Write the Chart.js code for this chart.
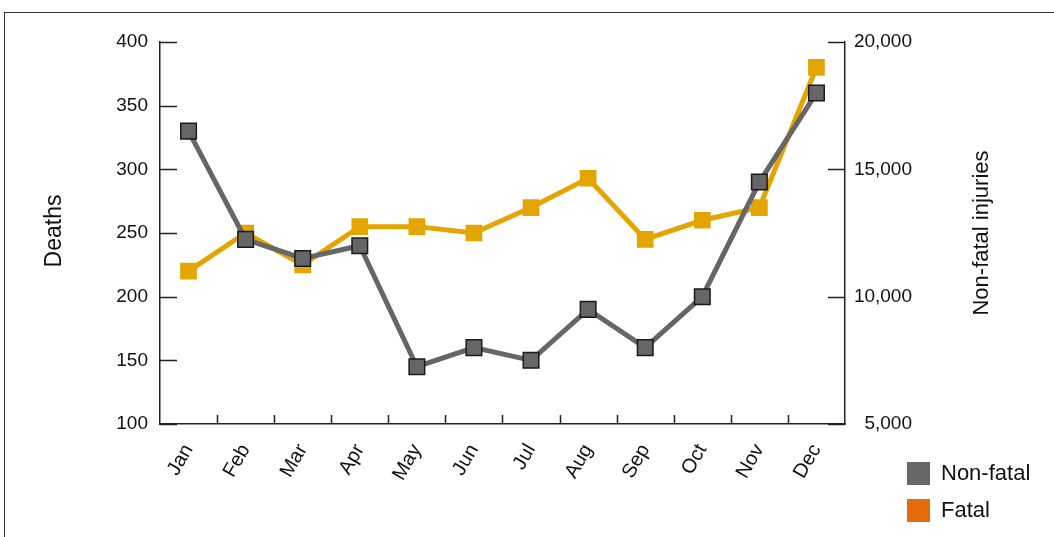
<!DOCTYPE html>
<html>
<head>
<meta charset="utf-8">
<script src="https://cdn.jsdelivr.net/npm/chart.js@4/dist/chart.umd.min.js"></script>
<style>
  html, body { margin: 0; padding: 0; background: #fff; }
  #wrap { position: relative; width: 1054px; height: 537px; overflow: hidden; }
  #frame { position: absolute; left: 4px; top: 12px; right: -10px; bottom: -10px;
           border-top: 1.5px solid #333; border-left: 1.5px solid #333; }
  canvas { position: absolute; left: 0; top: 0; }
  .leg { position: absolute; left: 907px; font-family: "Liberation Sans", Arial, sans-serif;
         font-size: 22px; color: #111; display: flex; align-items: center; }
  .leg span.box { display: inline-block; width: 23px; height: 23px; margin-right: 11px; }
</style>
</head>
<body>
<div id="wrap">
  <div id="frame"></div>
  <canvas id="c" width="1054" height="537"></canvas>
  <div class="leg" style="top:460px;"><span class="box" style="background:#666666"></span>Non-fatal</div>
  <div class="leg" style="top:497px;"><span class="box" style="background:#E36C0A"></span>Fatal</div>
</div>
<script>
const months = ['Jan','Feb','Mar','Apr','May','Jun','Jul','Aug','Sep','Oct','Nov','Dec'];
const deaths = [220, 250, 225, 255, 255, 250, 270, 293, 245, 260, 270, 380];
const nonFatalInjuries = [16500, 12250, 11500, 12000, 7250, 8000, 7500, 9500, 8000, 10000, 14500, 18000];
const deathTicks = [100, 150, 200, 250, 300, 350, 400];
const injuryTicks = [5000, 10000, 15000, 20000];
const leftTitle = 'Deaths';
const rightTitle = 'Non-fatal injuries';

const FONT = '"Liberation Sans", Arial, sans-serif';
const AXIS_COLOR = '#222';

const innerTicks = {
  id: 'innerTicks',
  afterDraw(chart) {
    const ctx = chart.ctx;
    const area = chart.chartArea;
    const yL = chart.scales.y, yR = chart.scales.y1, x = chart.scales.x;
    ctx.save();
    ctx.strokeStyle = AXIS_COLOR;
    ctx.lineWidth = 1.5;
    ctx.beginPath();
    deathTicks.forEach(v => {
      const py = Math.round(yL.getPixelForValue(v)) + 0.5;
      ctx.moveTo(area.left, py); ctx.lineTo(area.left + 17, py);
    });
    injuryTicks.forEach(v => {
      const py = Math.round(yR.getPixelForValue(v)) + 0.5;
      ctx.moveTo(area.right - 17, py); ctx.lineTo(area.right, py);
    });
    const band = x.getPixelForValue(1) - x.getPixelForValue(0);
    for (let i = 1; i < months.length; i++) {
      const px = Math.round(x.getPixelForValue(i) - band / 2) + 0.5;
      ctx.moveTo(px, area.bottom); ctx.lineTo(px, area.bottom - 9);
    }
    ctx.stroke();
    // axis titles
    ctx.fillStyle = '#111';
    ctx.textAlign = 'center';
    ctx.textBaseline = 'middle';
    const cy = (area.top + area.bottom) / 2;
    ctx.font = '23px ' + FONT;
    ctx.save(); ctx.translate(55, cy - 2); ctx.rotate(-Math.PI / 2); ctx.fillText(leftTitle, 0, 0); ctx.restore();
    ctx.font = '22px ' + FONT;
    ctx.save(); ctx.translate(982, cy); ctx.rotate(-Math.PI / 2); ctx.fillText(rightTitle, 0, 0); ctx.restore();
    ctx.restore();
  }
};

new Chart(document.getElementById('c'), {
  type: 'line',
  data: {
    labels: months,
    datasets: [
      {
        label: 'Non-fatal',
        data: nonFatalInjuries,
        yAxisID: 'y1',
        borderColor: '#666666',
        backgroundColor: '#666666',
        borderWidth: 5,
        pointStyle: 'rect',
        pointRadius: 11,
        pointBorderColor: '#1a1a1a',
        pointBorderWidth: 1.5,
        pointBackgroundColor: '#666666',
        tension: 0
      },
      {
        label: 'Fatal',
        data: deaths,
        yAxisID: 'y',
        borderColor: '#E5A500',
        backgroundColor: '#E5A500',
        borderWidth: 5,
        pointStyle: 'rect',
        pointRadius: 11.8,
        pointBorderWidth: 0,
        pointBackgroundColor: '#E5A500',
        tension: 0
      }
    ]
  },
  options: {
    responsive: false,
    animation: false,
    layout: { padding: { top: 42, left: 0, right: 142, bottom: 0 } },
    plugins: { legend: { display: false }, tooltip: { enabled: false } },
    scales: {
      x: {
        offset: true,
        grid: { display: false, drawTicks: false, offset: true },
        border: { display: true, color: AXIS_COLOR, width: 1.5 },
        ticks: { autoSkip: false, minRotation: 60, maxRotation: 60, padding: 16,
                 color: '#111', font: { family: FONT, size: 20 } },
        afterFit(s) { s.height = 113; }
      },
      y: {
        position: 'left',
        min: 100, max: 400,
        grid: { display: false, drawTicks: false },
        border: { display: true, color: AXIS_COLOR, width: 1.5 },
        ticks: { stepSize: 50, padding: 12, color: '#111', font: { family: FONT, size: 19 } },
        afterFit(s) { s.width = 160; }
      },
      y1: {
        position: 'right',
        min: 5000, max: 20000,
        grid: { display: false, drawTicks: false },
        border: { display: true, color: AXIS_COLOR, width: 1.5 },
        ticks: { stepSize: 5000, padding: 11, crossAlign: 'far', color: '#111', font: { family: FONT, size: 19 },
                 callback: v => Number(v).toLocaleString('en-US') },
        afterFit(s) { s.width = 67; }
      }
    }
  },
  plugins: [innerTicks]
});
</script>
</body>
</html>
